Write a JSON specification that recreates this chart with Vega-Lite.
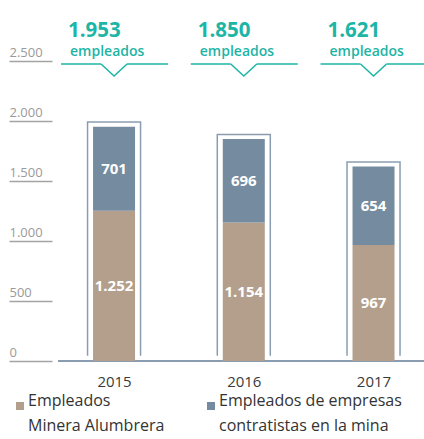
{
  "$schema": "https://vega.github.io/schema/vega-lite/v6.json",
  "autosize": {"type": "none"},
  "width": 366,
  "height": 300,
  "padding": {"left": 58, "top": 61, "right": 0, "bottom": 78},
  "background": "white",
  "config": {
    "view": {"stroke": null},
    "font": "Open Sans",
    "locale": {"number": {"decimal": ",", "thousands": ".", "grouping": [3], "currency": ["$", ""]}},
    "style": {"guide-label": {"lineHeight": 25}},
    "axisY": {"domain": false, "grid": false, "tickSize": 43, "tickColor": "#a3a3a3", "tickWidth": 1.5, "offset": 6, "labelAlign": "left", "labelBaseline": "bottom", "labelPadding": 0, "labelOffset": -1.5, "labelColor": "#9a9a9a", "labelFontSize": 13},
    "axisX": {"domain": false, "grid": false, "ticks": false, "labelFontSize": 15, "labelColor": "#3a3a3a", "labelPadding": 13}
  },
  "data": {"values": [
    {"year": 2015, "series": "Empleados Minera Alumbrera", "value": 1252},
    {"year": 2015, "series": "Empleados de empresas contratistas en la mina", "value": 701},
    {"year": 2016, "series": "Empleados Minera Alumbrera", "value": 1154},
    {"year": 2016, "series": "Empleados de empresas contratistas en la mina", "value": 696},
    {"year": 2017, "series": "Empleados Minera Alumbrera", "value": 967},
    {"year": 2017, "series": "Empleados de empresas contratistas en la mina", "value": 654}
  ]},
  "layer": [
    {
      "mark": {"type": "rule", "color": "#8a9db0", "strokeWidth": 1.5},
      "encoding": {"y": {"datum": 0, "type": "quantitative", "scale": {"domain": [0, 2500], "nice": false, "zero": false}}}
    },
    {
      "transform": [{"aggregate": [{"op": "sum", "field": "value", "as": "total"}], "groupby": ["year"]}],
      "mark": {"type": "bar", "width": 54.5, "fill": "#8a9db0", "yOffset": -5.3},
      "encoding": {
        "x": {"field": "year", "type": "quantitative", "scale": {"domain": [2014.568, 2017.389], "nice": false, "zero": false, "padding": 0}, "axis": {"values": [2015, 2016, 2017], "format": "d"}, "title": null},
        "y": {"field": "total", "type": "quantitative", "scale": {"domain": [0, 2500], "nice": false, "zero": false}, "axis": {"values": [0, 500, 1000, 1500, 2000, 2500], "format": ",d"}, "title": null}
      }
    },
    {
      "transform": [{"aggregate": [{"op": "sum", "field": "value", "as": "total"}], "groupby": ["year"]}],
      "mark": {"type": "bar", "width": 51.5, "fill": "white", "yOffset": -3.8, "y2Offset": 1},
      "encoding": {
        "x": {"field": "year", "type": "quantitative"},
        "y": {"field": "total", "type": "quantitative"}
      }
    },
    {
      "mark": {"type": "bar", "width": 42},
      "encoding": {
        "x": {"field": "year", "type": "quantitative"},
        "y": {"field": "value", "type": "quantitative", "stack": "zero"},
        "order": {"field": "series", "sort": "ascending"},
        "color": {
          "field": "series", "type": "nominal",
          "scale": {"domain": ["Empleados Minera Alumbrera", "Empleados de empresas contratistas en la mina"], "range": ["#b39f8c", "#758b9f"]},
          "legend": {
            "orient": "none", "legendX": -46, "legendY": 337, "direction": "horizontal", "columns": 2, "title": null,
            "symbolType": "square", "symbolSize": 64, "symbolStrokeWidth": 0, "symbolOpacity": 1,
            "labelFont": "Open Sans", "labelFontSize": 16, "labelColor": "#333333", "labelLimit": 300, "columnPadding": 38, "labelOffset": 0,
            "labelBaseline": "alphabetic", "padding": 0,
            "labelExpr": "datum.label == 'Empleados Minera Alumbrera' ? ['Empleados', '\u2004Minera Alumbrera'] : ['Empleados de empresas', '\u2002contratistas en la mina']"
          }
        }
      }
    },
    {
      "mark": {"type": "text", "color": "white", "fontWeight": "bold", "fontSize": 15, "baseline": "middle"},
      "encoding": {
        "x": {"field": "year", "type": "quantitative"},
        "y": {"field": "value", "type": "quantitative", "stack": "zero", "bandPosition": 0.5},
        "detail": {"field": "series"},
        "order": {"field": "series", "sort": "ascending"},
        "text": {"field": "value", "type": "quantitative", "format": ",d"}
      }
    },
    {
      "transform": [{"aggregate": [{"op": "sum", "field": "value", "as": "total"}], "groupby": ["year"]}],
      "layer": [
        {
          "mark": {"type": "text", "color": "#1cb5a6", "fontWeight": "bold", "fontSize": 20.5, "align": "left", "dx": -46},
          "encoding": {
            "x": {"field": "year", "type": "quantitative"},
            "y": {"datum": 2750, "type": "quantitative"},
            "text": {"field": "total", "type": "quantitative", "format": ",d"}
          }
        },
        {
          "mark": {"type": "text", "color": "#1cb5a6", "fontWeight": 600, "fontSize": 14, "align": "left", "dx": -44, "text": "empleados"},
          "encoding": {
            "x": {"field": "year", "type": "quantitative"},
            "y": {"datum": 2575, "type": "quantitative"}
          }
        },
        {
          "mark": {"type": "rule", "color": "#1cb5a6", "strokeWidth": 1.5, "xOffset": -53, "x2Offset": -13},
          "encoding": {
            "x": {"field": "year", "type": "quantitative"},
            "x2": {"field": "year"},
            "y": {"datum": 2475, "type": "quantitative"}
          }
        },
        {
          "mark": {"type": "rule", "color": "#1cb5a6", "strokeWidth": 1.5, "xOffset": 13, "x2Offset": 54},
          "encoding": {
            "x": {"field": "year", "type": "quantitative"},
            "x2": {"field": "year"},
            "y": {"datum": 2475, "type": "quantitative"}
          }
        },
        {
          "mark": {"type": "point", "shape": "M-1,-0.46L0,0.46L1,-0.46", "size": 676, "filled": false, "fill": null, "stroke": "#1cb5a6", "strokeWidth": 1.5, "opacity": 1, "yOffset": 6},
          "encoding": {
            "x": {"field": "year", "type": "quantitative"},
            "y": {"datum": 2475, "type": "quantitative"}
          }
        }
      ]
    }
  ]
}
